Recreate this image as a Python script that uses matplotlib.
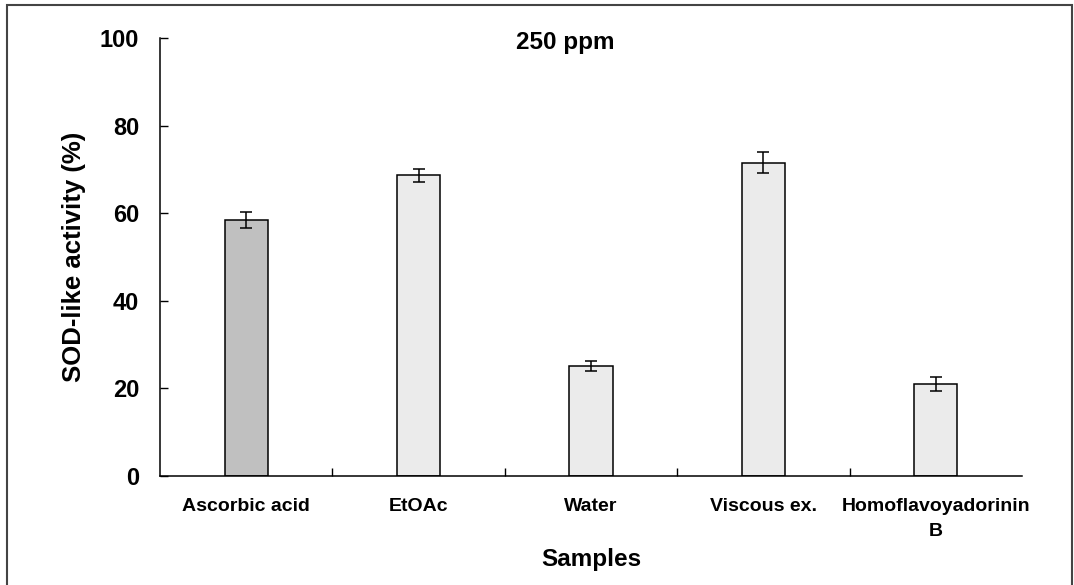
import numpy as np
import matplotlib.pyplot as plt
from matplotlib.patches import Rectangle

plt.rcParams['font.family'] = ['Liberation Sans', 'DejaVu Sans']
plt.rcParams['font.weight'] = 'bold'

samples = ['Ascorbic acid', 'EtOAc', 'Water', 'Viscous ex.', 'Homoflavoyadorinin\nB']
activity = [58.4, 68.7, 25.1, 71.5, 21.0]
errors = [1.8, 1.5, 1.2, 2.4, 1.7]
fills = ['#c0c0c0', '#ebebeb', '#ebebeb', '#ebebeb', '#ebebeb']

fig = plt.figure(figsize=(10.74, 5.85), dpi=100)
ax = fig.add_axes([160/1074, 109/585, 862/1074, 438/585])

ind = np.arange(len(samples))
ax.bar(ind, activity, 0.25, color=fills, edgecolor='black', linewidth=1.1,
       yerr=errors, capsize=4, error_kw=dict(elinewidth=1.1, capthick=1.1, ecolor='black'))

ax.set_xlim(-0.5, len(samples) - 0.5)
ax.set_ylim(0, 100)
ax.set_yticks([0, 20, 40, 60, 80, 100])
ax.set_xticks(ind)
ax.set_xticklabels(samples, fontsize=14, fontweight='bold')
ax.set_xticks(ind[:-1] + 0.5, minor=True)
ax.tick_params(axis='x', which='major', length=0, pad=16)
ax.tick_params(axis='x', which='minor', direction='in', length=6, width=1)
ax.tick_params(axis='y', direction='in', length=6, width=1, labelsize=17, pad=15)
for lab in ax.get_yticklabels():
    lab.set_fontweight('bold')
for lab in ax.get_xticklabels():
    lab.set_linespacing(1.6)

ax.spines['top'].set_visible(False)
ax.spines['right'].set_visible(False)
ax.spines['left'].set_linewidth(1.1)
ax.spines['bottom'].set_linewidth(1.1)

ax.set_ylabel('SOD-like activity (%)', fontsize=18.5, fontweight='bold', labelpad=10)
ax.set_xlabel('Samples', fontsize=17.5, fontweight='bold', labelpad=6)
ax.text(0.47, 0.99, '250 ppm', transform=ax.transAxes, ha='center', va='center',
        fontsize=17.5, fontweight='bold')

fig.patches.append(Rectangle((7/1074, -0.01), 1065/1074, 1 - 5/585 + 0.01,
                             transform=fig.transFigure, fill=False,
                             edgecolor='#444444', linewidth=1.5))

fig.savefig('out.png', dpi=100)
